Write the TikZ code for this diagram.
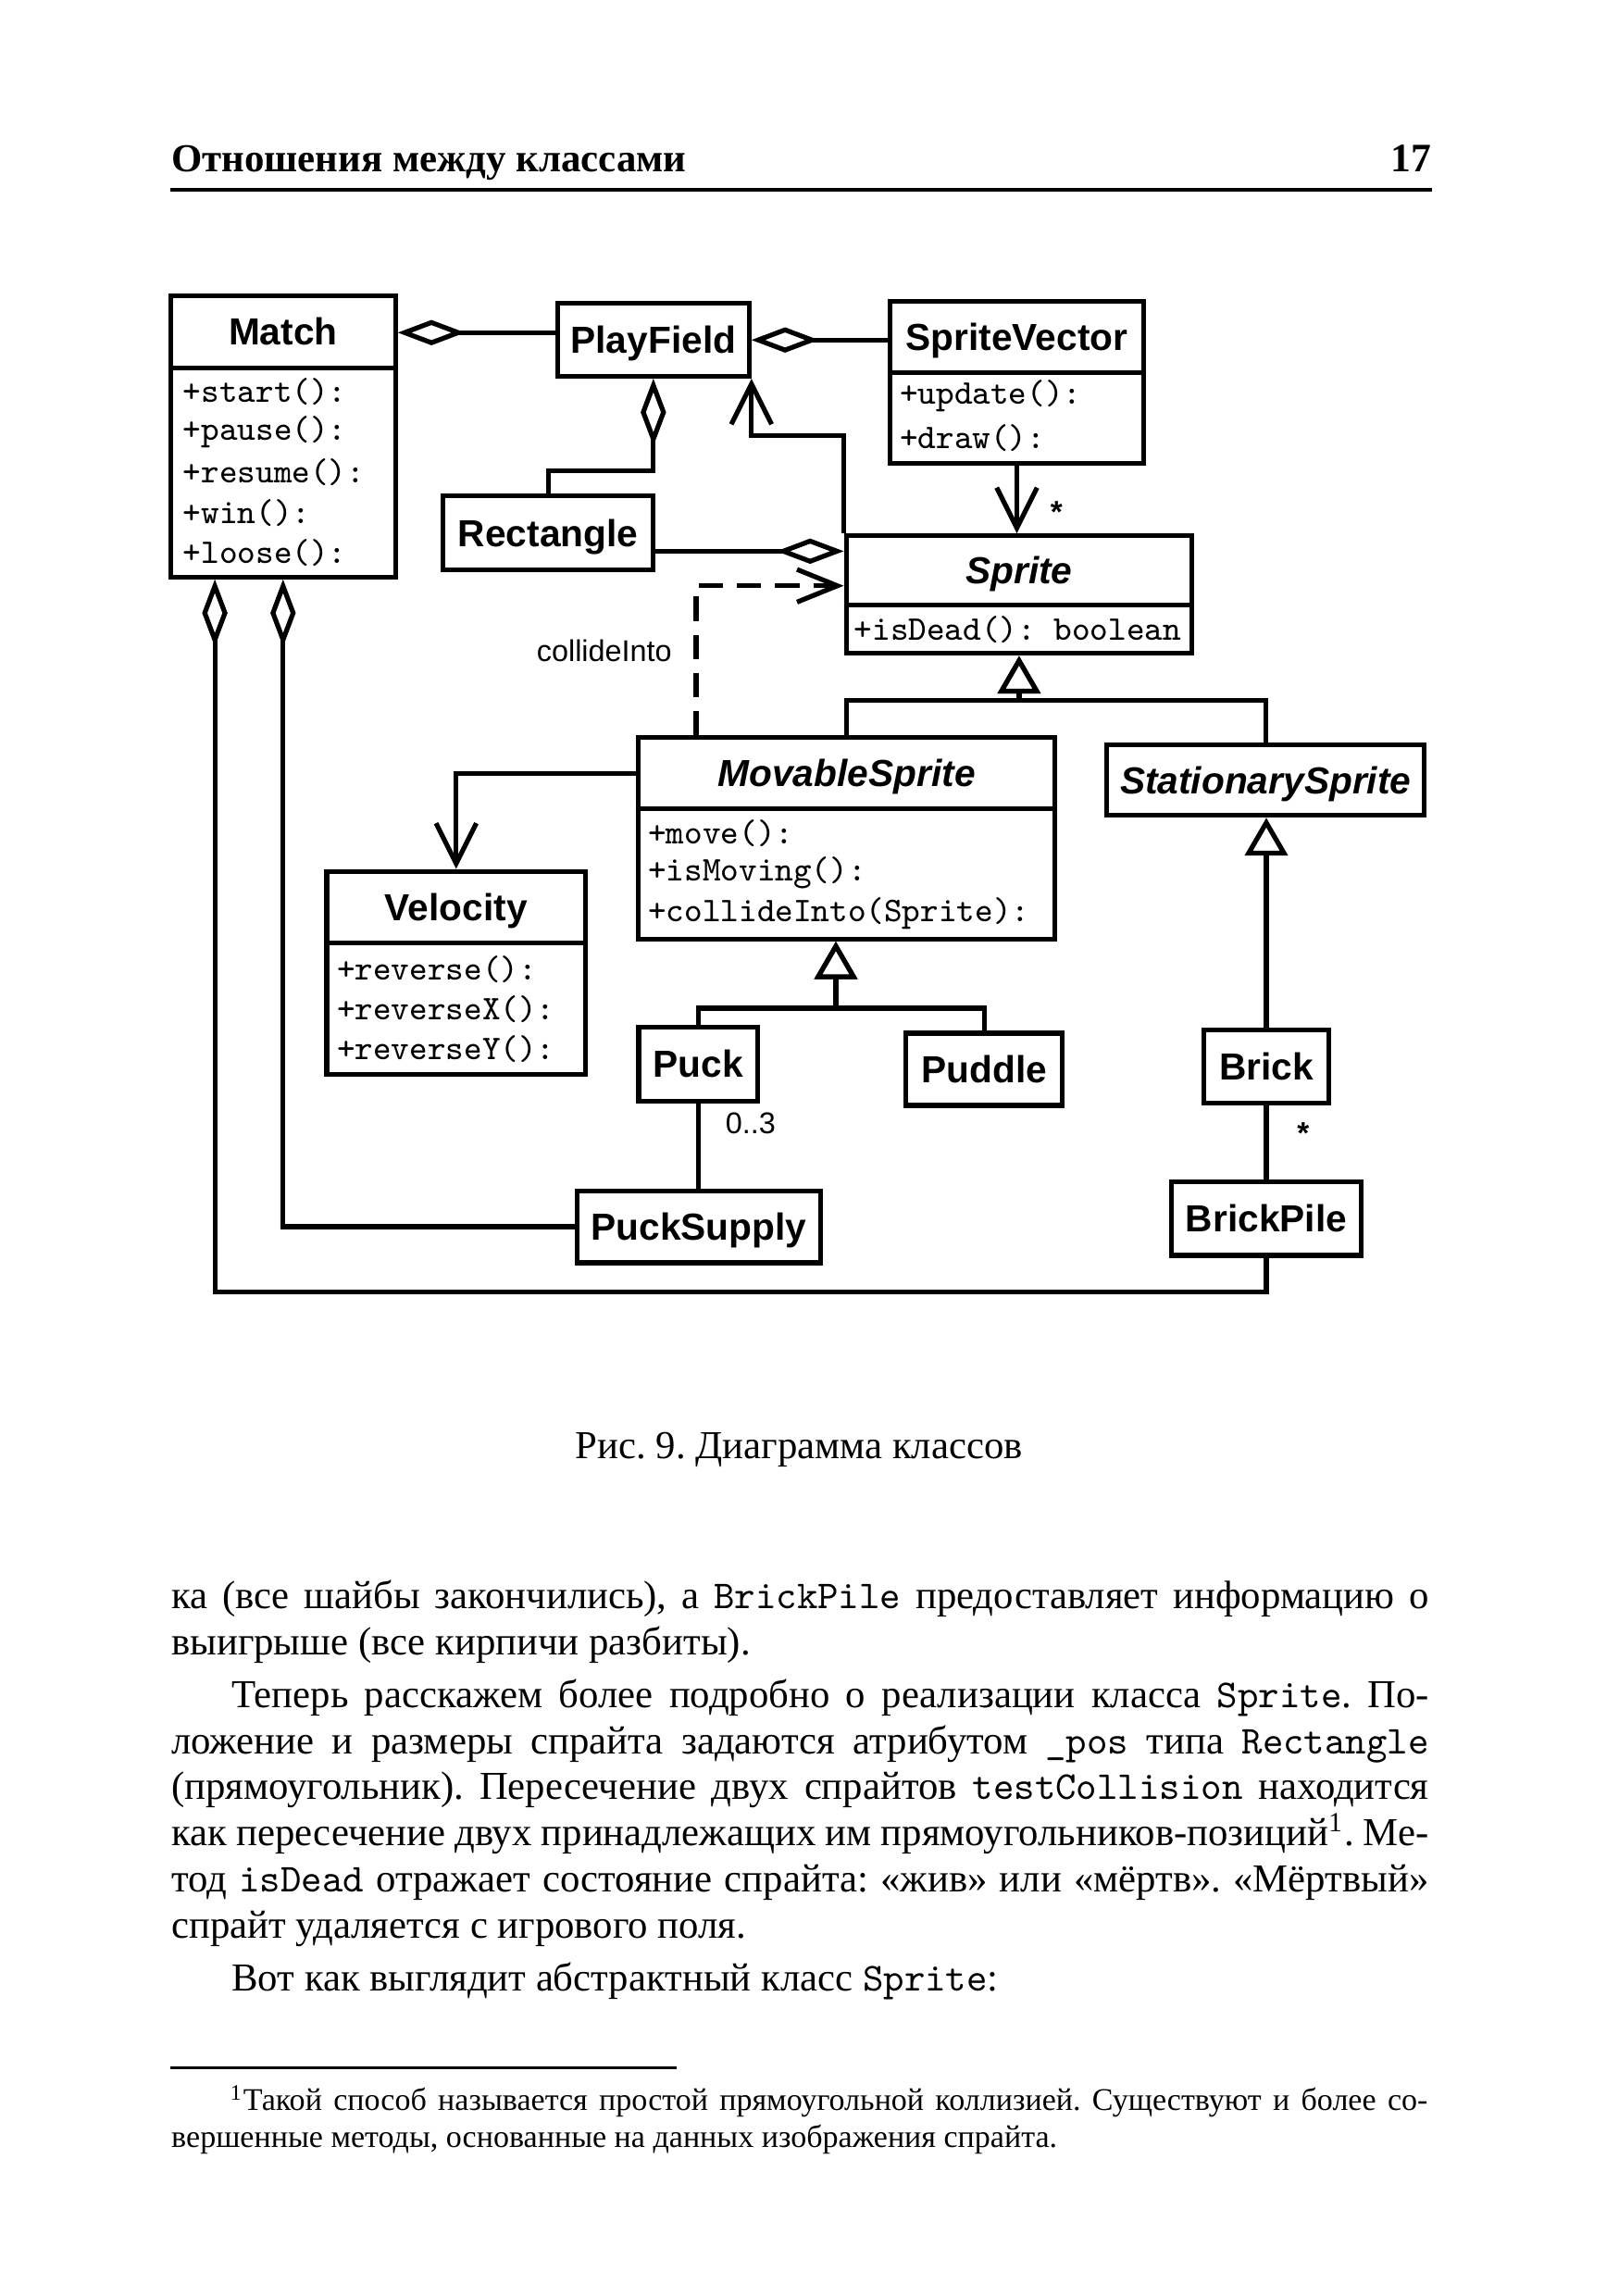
\documentclass[tikz,border=0pt]{standalone}
\usepackage{fontspec}
\usepackage{graphicx}
\setmainfont{Liberation Serif}
\newfontfamily\hv{Liberation Sans}
\usetikzlibrary{arrows.meta,fit}
\frenchspacing
\begin{document}
\frenchspacing
\begin{tikzpicture}[x=0.013455cm,y=-0.013455cm,
  ln/.style={line width=1.25pt},
  clsbox/.style={draw, line width=1.25pt, inner sep=0pt},
  ttl/.style={font=\hv\bfseries\fontsize{9.8}{11}\selectfont, inner sep=0pt, text height=7pt, text depth=0pt},
  ttli/.style={ttl, font=\hv\bfseries\itshape\fontsize{9.8}{11}\selectfont},
  mth/.style={font=\ttfamily\fontsize{9}{10}\selectfont, inner sep=0pt, anchor=west},
  lbl/.style={font=\hv\fontsize{7.8}{9}\selectfont, inner sep=0pt},
  agg/.style={ln, {Diamond[length=17.5pt, width=6.6pt, fill=white]}-},
  aggend/.style={ln, -{Diamond[length=17.5pt, width=6.6pt, fill=white]}},
  assoc/.style={ln, -{Straight Barb[length=10.5pt, width=10.5pt]}},
  dep/.style={ln, dash pattern=on 6.3pt off 3.6pt, -{Straight Barb[length=10.5pt, width=8.5pt]}},
  gen/.style={ln, -{Triangle[length=9.8pt, width=11pt, fill=white]}},
  body/.style={font=\fontsize{10.3}{12}\selectfont, inner sep=0pt, anchor=base west},
  foot/.style={font=\fontsize{8.2}{9.5}\selectfont, inner sep=0pt, anchor=base west},
]
\fill[white] (0,0) rectangle (1100,1560);
\useasboundingbox (0,0) rectangle (1100,1560);

% ---------- header ----------
\node[inner sep=0pt, anchor=base west] (hdr) at (116,116.4)
  {\resizebox{134pt}{!}{\bfseries Отношения между классами}};
\node[inner sep=0pt, anchor=base east, font=\bfseries\fontsize{10.5}{12}\selectfont] (pg) at (973,116.4) {17};
\draw[line width=1pt] (hdr.base west |- 0,129) -- (pg.base east |- 0,129);

% ---------- class boxes ----------
\node[clsbox, fit={(116,201) (268.7,392)}] (match) {};
\draw[ln] (match.west |- 0,249.8) -- (match.east |- 0,249.8);
\node[clsbox, fit={(379,206) (509,255.6)}] (pf) {};
\node[clsbox, fit={(605,204.5) (777,315)}] (sv) {};
\draw[ln] (sv.west |- 0,253) -- (sv.east |- 0,253);
\node[clsbox, fit={(301,337) (444,387)}] (rect) {};
\node[clsbox, fit={(575,364) (810,444)}] (sprite) {};
\draw[ln] (sprite.west |- 0,411) -- (sprite.east |- 0,411);
\node[clsbox, fit={(433.6,501) (717,638)}] (ms) {};
\draw[ln] (ms.west |- 0,549.5) -- (ms.east |- 0,549.5);
\node[clsbox, fit={(752,506) (968,554)}] (ss) {};
\node[clsbox, fit={(222,592) (398,730)}] (vel) {};
\draw[ln] (vel.west |- 0,640.6) -- (vel.east |- 0,640.6);
\node[clsbox, fit={(434,698) (515,748)}] (puck) {};
\node[clsbox, fit={(615.5,702) (722,751)}] (puddle) {};
\node[clsbox, fit={(818,700) (903,749.5)}] (brick) {};
\node[clsbox, fit={(392,809) (557.6,858)}] (ps) {};
\node[clsbox, fit={(796,803) (925,853)}] (bp) {};

% ---------- class names ----------
\node[ttl] (tmatch) at (192.4,225.4) {Match};
\node[ttl] (tpf) at (444,230.8) {PlayField};
\node[ttl] (tsv) at (691,228.8) {SpriteVector};
\node[ttl] (trect) at (372.5,362) {Rectangle};
\node[ttli] (tsprite) at (692.5,387.5) {Sprite};
\node[ttli] (tms) at (575.3,525.3) {MovableSprite};
\node[ttli] (tss) at (860,530) {StationarySprite};
\node[ttl] (tvel) at (310,616.3) {Velocity};
\node[ttl] (tpuck) at (474.5,723) {Puck};
\node[ttl] (tpuddle) at (668.75,726.5) {Puddle};
\node[ttl] (tbrick) at (860.5,724.8) {Brick};
\node[ttl] (tps) at (474.8,833.5) {PuckSupply};
\node[ttl] (tbp) at (860.5,828) {BrickPile};

% ---------- methods ----------
\node[mth] (m1) at (124,266.4) {+start():};
\node[mth] (m2) at (124,293.7) {+pause():};
\node[mth] (m3) at (124,321) {+resume():};
\node[mth] (m4) at (124,348.3) {+win():};
\node[mth] (m5) at (124,375.6) {+loose():};
\node[mth] (s1) at (611,269) {+update():};
\node[mth] (s2) at (611,297.5) {+draw():};
\node[mth] (p1) at (580,428) {+isDead(): boolean};
\node[mth] (v1) at (440,566) {+move():};
\node[mth] (v2) at (440,593) {+isMoving():};
\node[mth] (v3) at (440,620.5) {+collideInto(Sprite):};
\node[mth] (r1) at (228.5,658.5) {+reverse():};
\node[mth] (r2) at (228.5,685.8) {+reverseX():};
\node[mth] (r3) at (228.5,713) {+reverseY():};

% ---------- connectors ----------
\draw[agg] (match.east |- 0,226) -- (pf.west |- 0,226);
\draw[agg] (pf.east |- 0,231) -- (sv.west |- 0,231);
\draw[agg] (pf.south) -- (pf.south |- 0,320) -| (rect.north);
\draw[aggend] (rect.east |- 0,374.5) -- (sprite.west |- 0,374.5);
\draw[assoc] (sv.south) -- (sprite.north -| sv.south);
\node[lbl, font=\hv\bfseries\fontsize{8}{9}\selectfont] (star1) at (718,348) {*};
\draw[assoc] (sprite.north west) -- (sprite.north west |- 0,296) -| (pf.south east);
\draw[dep] (ms.north -| 473,0) -- (473,398) -- (sprite.west |- 0,398);
\node[lbl, anchor=east] (lblci) at (457,442) {collideInto};
\draw[gen] (ms.north) -- (ms.north |- 0,476) -| (sprite.south);
\draw[gen] (ss.north) -- (ss.north |- 0,476) -| (sprite.south);
\draw[assoc] (ms.west |- 0,525.5) -| (vel.north);
\draw[gen] (puck.north) -- (puck.north |- 0,685) -| (ms.south -| 568,0);
\draw[gen] (puddle.north) -- (puddle.north |- 0,685) -| (ms.south -| 568,0);
\draw[gen] (brick.north) -- (brick.north |- ss.south);
\draw[ln] (brick.south) -- (bp.north);
\node[lbl, font=\hv\bfseries\fontsize{8}{9}\selectfont] (star2) at (885.5,770) {*};
\draw[ln] (puck.south) -- (puck.south |- ps.north);
\node[lbl] (lbl03) at (510,763) {0..3};
\draw[agg] (match.south) |- (ps.west);
\draw[agg] (match.south -| 146,0) |- (bp.south |- 0,878) -- (bp.south);

% ---------- caption ----------
\node[font=\fontsize{10.3}{12}\selectfont, inner sep=0pt, anchor=base] (cap) at (543,991) {Рис. 9. Диаграмма классов};

% ---------- body text ----------
\node[body] (l1) at (116,1093) {\makebox[327.2pt][s]{ка (все шайбы закончились), а \texttt{BrickPile} предоставляет информацию о}};
\node[body] (l2) at (116,1124.4) {выигрыше (все кирпичи разбиты).};
\node[body] (l3) at (157,1160) {\makebox[311.6pt][s]{Теперь расскажем более подробно о реализации класса \texttt{Sprite}. По-}};
\node[body] (l4) at (116,1191.4) {\makebox[327.2pt][s]{ложение и размеры спрайта задаются атрибутом \texttt{\_pos} типа \texttt{Rectangle}}};
\node[body] (l5) at (116,1222.8) {\makebox[327.2pt][s]{(прямоугольник). Пересечение двух спрайтов \texttt{testCollision} находится}};
\node[body] (l6) at (116,1254.2) {\makebox[327.2pt][s]{как пересечение двух принадлежащих им прямоугольников-позиций\textsuperscript{1}. Ме-}};
\node[body] (l7) at (116,1285.6) {\makebox[327.2pt][s]{тод \texttt{isDead} отражает состояние спрайта: «жив» или «мёртв». «Мёртвый»}};
\node[body] (l8) at (116,1317) {спрайт удаляется с игрового поля.};
\node[body] (l9) at (157,1352.6) {Вот как выглядит абстрактный класс \texttt{Sprite}:};

% ---------- footnote ----------
\draw[line width=0.9pt] (l1.base west |- 0,1405) -- (460,1405);
\node[foot] (f1) at (156,1434) {\makebox[311.6pt][s]{\textsuperscript{1}Такой способ называется простой прямоугольной коллизией. Существуют и более со-}};
\node[foot] (f2) at (116,1459) {вершенные методы, основанные на данных изображения спрайта.};
\end{tikzpicture}
\end{document}
